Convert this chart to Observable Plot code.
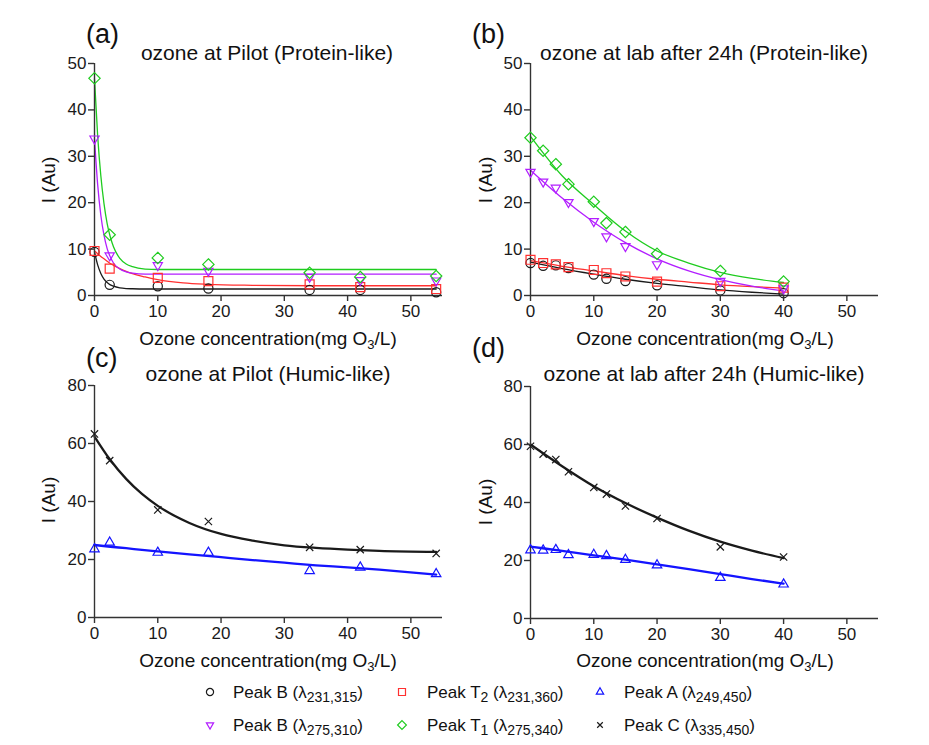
<!DOCTYPE html>
<html><head><meta charset="utf-8">
<script src="https://cdn.jsdelivr.net/npm/d3@7"></script>
<script src="https://cdn.jsdelivr.net/npm/@observablehq/plot@0.6"></script>
<style>
body{margin:0;background:#fff;font-family:"Liberation Sans",Arial,sans-serif;color:#111;}
#wrap{position:relative;width:929px;height:745px;overflow:hidden;}
.abs{position:absolute;white-space:nowrap;line-height:1;}
.c{transform:translate(-50%,-50%);}
.l{transform:translateY(-50%);}
.letter{font-size:27px;}
.title{font-size:21px;}
.xl{font-size:19px;}
.yl{font-size:19px;transform:translate(-50%,-50%) rotate(-90deg);}
.leg{font-size:17px;}
.leg sub{font-size:14px;vertical-align:-4px;line-height:0;}
.xl sub{font-size:13px;vertical-align:-4px;line-height:0;}
.plot{position:absolute;}
</style></head><body><div id="wrap"></div>
<script>
// ---------- data ----------
const xPilot = [0, 2.4, 10, 18, 34, 42, 54];
const xLab = [0, 2, 4, 6, 10, 12, 15, 20, 30, 40];
const xTicks = [0, 10, 20, 30, 40, 50];
const yTicksProtein = [0, 10, 20, 30, 40, 50];
const yTicksHumic = [0, 20, 40, 60, 80];

// panel (a) markers
const aB231 = [9.4, 2.3, 2.0, 1.5, 1.2, 1.2, 0.7];
const aT2 = [9.6, 5.8, 3.8, 3.1, 2.4, 1.8, 1.4];
const aB275 = [33.8, 8.6, 6.5, 5.3, 4.0, 3.3, 3.2];
const aT1 = [46.8, 13.1, 8.1, 6.7, 4.9, 4.0, 4.2];
// panel (a) fitted curves
const fitXA = [0, 0.5, 1, 1.5, 2, 2.5, 3, 4, 5, 6, 8, 10, 14, 18, 25, 35, 54];
const fitA_B231 = [9.4, 6.6, 4.75, 3.55, 2.8, 2.3, 2.0, 1.65, 1.5, 1.45, 1.4, 1.4, 1.4, 1.4, 1.4, 1.4, 1.4];
const fitA_T2 = [9.6, 9.0, 8.4, 7.9, 7.4, 6.9, 6.5, 5.8, 5.2, 4.7, 4.0, 3.4, 2.7, 2.4, 2.2, 2.1, 2.1];
const fitA_B275 = [33.8, 23.9, 17.3, 13.0, 10.1, 8.3, 7.0, 5.7, 5.1, 4.8, 4.6, 4.6, 4.6, 4.6, 4.6, 4.6, 4.6];
const fitA_T1 = [46.7, 34.4, 25.8, 19.8, 15.5, 12.6, 10.5, 8.0, 6.8, 6.2, 5.7, 5.6, 5.6, 5.6, 5.6, 5.6, 5.6];

// panel (b) markers
const bB231 = [7.0, 6.4, 6.5, 5.9, 4.5, 3.6, 3.1, 2.2, 1.1, 0.5];
const bT2 = [7.7, 7.0, 6.7, 6.1, 5.5, 4.8, 4.1, 3.0, 2.0, 1.7];
const bB275 = [26.6, 24.5, 23.2, 20.1, 16.0, 12.7, 10.6, 6.7, 3.1, 1.5];
const bT1 = [34.0, 31.2, 28.3, 24.0, 20.2, 15.6, 13.7, 9.0, 5.3, 3.0];
// panel (b) fitted curves
const fitXB = [0, 5, 10, 15, 20, 25, 30, 35, 40];
const fitB_B231 = [7.2, 5.8, 4.6, 3.5, 2.6, 1.9, 1.2, 0.7, 0.3];
const fitB_T2 = [7.5, 6.3, 5.3, 4.3, 3.5, 2.9, 2.3, 1.9, 1.6];
const fitB_B275 = [27.0, 21.0, 15.8, 11.4, 7.9, 5.3, 3.4, 2.0, 1.0];
const fitB_T1 = [34.3, 25.8, 19.6, 13.9, 9.6, 7.0, 5.0, 3.7, 2.8];

// panel (c) markers
const cA = [23.6, 25.9, 22.4, 22.4, 16.1, 17.3, 15.0];
const cC = [63.3, 54.1, 37.1, 33.1, 24.2, 23.4, 22.1];
// panel (c) fitted curves
const fitXC = [0, 2.5, 5, 7.5, 10, 15, 20, 25, 30, 35, 40, 45, 54];
const fitC_A = [25.0, 24.4, 23.9, 23.3, 22.8, 21.8, 20.8, 19.8, 18.9, 18.0, 17.3, 16.5, 14.8];
const fitC_C = [62.4, 54.3, 47.8, 42.6, 38.5, 32.6, 28.8, 26.5, 24.9, 24.0, 23.4, 23.0, 22.6];

// panel (d) markers
const dA = [23.6, 23.5, 23.7, 21.9, 22.0, 21.6, 20.3, 18.4, 14.1, 11.8];
const dC = [59.4, 56.7, 54.8, 50.6, 45.2, 42.9, 38.8, 34.5, 24.7, 21.2];
// panel (d) fitted curves
const fitXD = [0, 5, 10, 15, 20, 25, 30, 35, 40];
const fitD_A = [24.8, 23.3, 21.8, 20.3, 18.7, 17.0, 15.3, 13.6, 12.0];
const fitD_C = [60.0, 52.5, 45.6, 39.8, 34.8, 30.3, 26.5, 23.4, 20.8];

// ---------- styles ----------
const COL = {black: "#1a1a1a", red: "#ff3030", blue: "#1414ff", purple: "#b21eff", green: "#1fcc1f"};
const triDown = {draw(ctx, size) {
  const s = Math.sqrt(size) * 0.6824, t = s / 2, u = s * Math.sqrt(3) / 2;
  ctx.moveTo(0, s); ctx.lineTo(u, -t); ctx.lineTo(-u, -t); ctx.closePath();
}};
const SYM = {
  B231: {symbol: "circle", r: 4.6, color: COL.black},
  T2: {symbol: "square2", r: 5.7, color: COL.red},
  A: {symbol: "triangle2", r: 4.5, color: COL.blue},
  B275: {symbol: triDown, r: 4.4, color: COL.purple},
  T1: {symbol: "diamond2", r: 5.1, color: COL.green},
  C: {symbol: "times", r: 3.4, color: COL.black}
};

function panel(xs, series, yMax, yTicks, lw) {
  const marks = [];
  for (const s of series) {
    marks.push(Plot.line(s.fx.map((x, i) => ({x, y: s.fy[i]})),
      {x: "x", y: "y", curve: "monotone-x", stroke: SYM[s.k].color, strokeWidth: lw}));
  }
  marks.push(Plot.ruleX([0], {stroke: "#333", strokeWidth: 1.4}));
  marks.push(Plot.ruleY([0], {stroke: "#333", strokeWidth: 1.4}));
  for (const s of series) {
    const m = SYM[s.k];
    marks.push(Plot.dot(xs.map((x, i) => ({x, y: s.ys[i]})),
      {x: "x", y: "y", symbol: m.symbol, r: m.r, stroke: m.color, strokeWidth: 1.2, fill: "none"}));
  }
  marks.push(Plot.axisX({ticks: xTicks, tickSize: 6, tickPadding: 3, label: null, stroke: "#333", strokeWidth: 1.4}));
  marks.push(Plot.axisY({ticks: yTicks, tickSize: 6, tickPadding: 2, label: null, stroke: "#333", strokeWidth: 1.4}));
  return Plot.plot({
    width: 464, height: 330, marginLeft: 94, marginRight: 22, marginTop: 63, marginBottom: 35,
    x: {domain: [0, 55]}, y: {domain: [0, yMax]},
    style: {fontSize: "17px", fontFamily: "'Liberation Sans', Arial, sans-serif", color: "#1a1a1a", background: "transparent", overflow: "visible"},
    marks
  });
}

const wrap = document.getElementById("wrap");
function place(el, left, top) {
  const d = document.createElement("div");
  d.className = "plot"; d.style.left = left + "px"; d.style.top = top + "px";
  d.appendChild(el); wrap.appendChild(d);
}
function txt(html, cls, x, y) {
  const d = document.createElement("div");
  d.className = "abs " + cls; d.style.left = x + "px"; d.style.top = y + "px";
  d.innerHTML = html; wrap.appendChild(d);
}

place(panel(xPilot, [
  {k: "B231", ys: aB231, fx: fitXA, fy: fitA_B231},
  {k: "T2", ys: aT2, fx: fitXA, fy: fitA_T2},
  {k: "B275", ys: aB275, fx: fitXA, fy: fitA_B275},
  {k: "T1", ys: aT1, fx: fitXA, fy: fitA_T1}
], 50, yTicksProtein, 1.3), 0, 0);

place(panel(xLab, [
  {k: "B231", ys: bB231, fx: fitXB, fy: fitB_B231},
  {k: "T2", ys: bT2, fx: fitXB, fy: fitB_T2},
  {k: "B275", ys: bB275, fx: fitXB, fy: fitB_B275},
  {k: "T1", ys: bT1, fx: fitXB, fy: fitB_T1}
], 50, yTicksProtein, 1.3), 436, 0);

place(panel(xPilot, [
  {k: "A", ys: cA, fx: fitXC, fy: fitC_A},
  {k: "C", ys: cC, fx: fitXC, fy: fitC_C}
], 80, yTicksHumic, 2.3), 0, 322);

place(panel(xLab, [
  {k: "A", ys: dA, fx: fitXD, fy: fitD_A},
  {k: "C", ys: dC, fx: fitXD, fy: fitD_C}
], 80, yTicksHumic, 2.3), 436, 323);

// panel letters & titles
const titles = [
  {letter: "(a)", lx: 86, ly: 34, t: "ozone at Pilot (Protein-like)", tx: 267, ty: 52},
  {letter: "(b)", lx: 472, ly: 34, t: "ozone at lab after 24h (Protein-like)", tx: 704, ty: 52},
  {letter: "(c)", lx: 86, ly: 358, t: "ozone at Pilot (Humic-like)", tx: 268, ty: 373},
  {letter: "(d)", lx: 472, ly: 348, t: "ozone at lab after 24h (Humic-like)", tx: 704, ty: 373}
];
for (const p of titles) {
  txt(p.letter, "letter l", p.lx, p.ly);
  txt(p.t, "title c", p.tx, p.ty);
}
const xLabel = "Ozone concentration(mg O<sub>3</sub>/L)";
txt(xLabel, "xl c", 268, 338);
txt(xLabel, "xl c", 705, 338);
txt(xLabel, "xl c", 268, 660);
txt(xLabel, "xl c", 705, 660);
txt("I (Au)", "yl", 48, 180);
txt("I (Au)", "yl", 485, 180);
txt("I (Au)", "yl", 48, 500);
txt("I (Au)", "yl", 485, 502);

// legend
const legendItems = [
  {k: "B231", html: "Peak B (λ<sub>231,315</sub>)", mx: 210, tx: 233, y: 692},
  {k: "T2", html: "Peak T<sub>2</sub> (λ<sub>231,360</sub>)", mx: 402, tx: 427, y: 692},
  {k: "A", html: "Peak A (λ<sub>249,450</sub>)", mx: 600, tx: 624, y: 692},
  {k: "B275", html: "Peak B (λ<sub>275,310</sub>)", mx: 210, tx: 233, y: 725},
  {k: "T1", html: "Peak T<sub>1</sub> (λ<sub>275,340</sub>)", mx: 402, tx: 427, y: 725},
  {k: "C", html: "Peak C (λ<sub>335,450</sub>)", mx: 600, tx: 624, y: 725}
];
const d3sym = {circle: d3.symbolCircle, square2: d3.symbolSquare2, triangle2: d3.symbolTriangle2, diamond2: d3.symbolDiamond2, times: d3.symbolTimes};
for (const it of legendItems) {
  const m = SYM[it.k];
  const type = typeof m.symbol === "string" ? d3sym[m.symbol] : m.symbol;
  const rr = m.r * 0.78;
  const svg = d3.create("svg").attr("width", 16).attr("height", 16).style("position", "absolute")
    .style("left", (it.mx - 8) + "px").style("top", (it.y - 8) + "px");
  svg.append("path").attr("transform", "translate(8,8)")
    .attr("d", d3.symbol(type, rr * rr * Math.PI)())
    .attr("fill", "none").attr("stroke", m.color).attr("stroke-width", 1.2);
  wrap.appendChild(svg.node());
  txt(it.html, "leg l", it.tx, it.y);
}
</script></body></html>
